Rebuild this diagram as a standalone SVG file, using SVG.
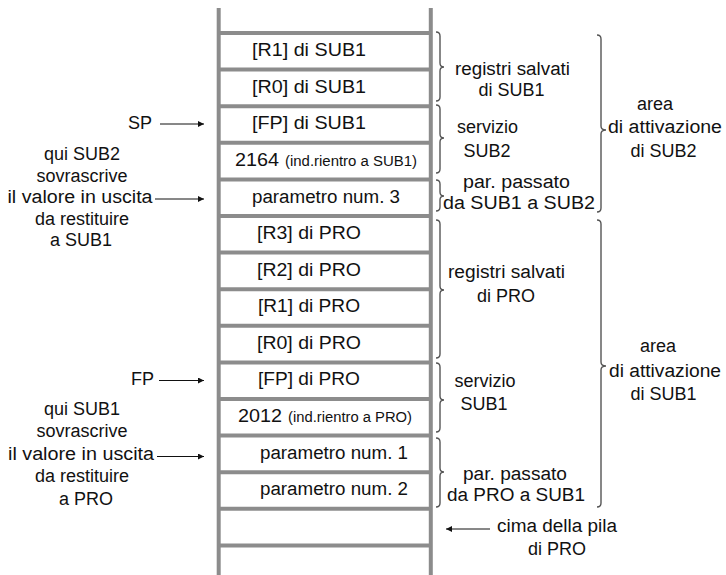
<svg xmlns="http://www.w3.org/2000/svg" width="726" height="575" viewBox="0 0 726 575">
<defs>
<style>
text{font-family:"Liberation Sans",Arial,Helvetica,sans-serif;font-size:18px;fill:#111}
.m{text-anchor:middle}
.e{text-anchor:end}
.s{font-size:14px}
.wall{stroke:#8c8c8c;stroke-width:4;fill:none}
.brace{stroke:#555;stroke-width:1.4;fill:none}
.arr{stroke:#111;stroke-width:1;fill:none;marker-end:url(#ah)}
</style>
<marker id="ah" viewBox="0 0 10 10" refX="10" refY="5" markerWidth="8" markerHeight="6" markerUnits="userSpaceOnUse" orient="auto">
<path d="M0,0 L10,5 L0,10 z" fill="#111"/>
</marker>
</defs>
<rect width="726" height="575" fill="#fff"/>

<g id="stack">
<line class="wall" x1="218.7" y1="8" x2="218.7" y2="575"/>
<line class="wall" x1="430.8" y1="8" x2="430.8" y2="575"/>
<g class="wall">
<line x1="218" y1="33" x2="431" y2="33"/>
<line x1="218" y1="69.6" x2="431" y2="69.6"/>
<line x1="218" y1="106.2" x2="431" y2="106.2"/>
<line x1="218" y1="142.8" x2="431" y2="142.8"/>
<line x1="218" y1="179.4" x2="431" y2="179.4"/>
<line x1="218" y1="216" x2="431" y2="216"/>
<line x1="218" y1="252.6" x2="431" y2="252.6"/>
<line x1="218" y1="289.2" x2="431" y2="289.2"/>
<line x1="218" y1="325.8" x2="431" y2="325.8"/>
<line x1="218" y1="362.4" x2="431" y2="362.4"/>
<line x1="218" y1="399" x2="431" y2="399"/>
<line x1="218" y1="435.6" x2="431" y2="435.6"/>
<line x1="218" y1="472.2" x2="431" y2="472.2"/>
<line x1="218" y1="508.8" x2="431" y2="508.8"/>
<line x1="218" y1="545.4" x2="431" y2="545.4"/>
</g>
</g>

<g id="cell-r1-sub1"><text class="m" x="309" y="56" textLength="114" lengthAdjust="spacingAndGlyphs">[R1] di SUB1</text></g>
<g id="cell-r0-sub1"><text class="m" x="309" y="92.5" textLength="114" lengthAdjust="spacingAndGlyphs">[R0] di SUB1</text></g>
<g id="cell-fp-sub1"><text class="m" x="309" y="129" textLength="114" lengthAdjust="spacingAndGlyphs">[FP] di SUB1</text></g>
<g id="cell-2164"><text x="235" y="165.5" textLength="44" lengthAdjust="spacingAndGlyphs">2164</text><text class="s" x="285" y="165.5" textLength="132" lengthAdjust="spacingAndGlyphs">(ind.rientro a SUB1)</text></g>
<g id="cell-par3"><text class="m" x="326" y="202.5" textLength="148" lengthAdjust="spacingAndGlyphs">parametro num. 3</text></g>
<g id="cell-r3-pro"><text class="m" x="309" y="239" textLength="104" lengthAdjust="spacingAndGlyphs">[R3] di PRO</text></g>
<g id="cell-r2-pro"><text class="m" x="309" y="275.5" textLength="104" lengthAdjust="spacingAndGlyphs">[R2] di PRO</text></g>
<g id="cell-r1-pro"><text class="m" x="309" y="312" textLength="102" lengthAdjust="spacingAndGlyphs">[R1] di PRO</text></g>
<g id="cell-r0-pro"><text class="m" x="309" y="348.5" textLength="104" lengthAdjust="spacingAndGlyphs">[R0] di PRO</text></g>
<g id="cell-fp-pro"><text class="m" x="309" y="385" textLength="102" lengthAdjust="spacingAndGlyphs">[FP] di PRO</text></g>
<g id="cell-2012"><text x="238" y="422" textLength="44" lengthAdjust="spacingAndGlyphs">2012</text><text class="s" x="288" y="422" textLength="124" lengthAdjust="spacingAndGlyphs">(ind.rientro a PRO)</text></g>
<g id="cell-par1"><text class="m" x="334" y="458.5" textLength="148" lengthAdjust="spacingAndGlyphs">parametro num. 1</text></g>
<g id="cell-par2"><text class="m" x="334" y="495" textLength="148" lengthAdjust="spacingAndGlyphs">parametro num. 2</text></g>

<g id="label-sp"><text class="e" x="152" y="128.5">SP</text></g>
<g id="label-sub2">
<text class="m" x="82" y="160">qui SUB2</text>
<text class="m" x="82" y="181.5">sovrascrive</text>
<text class="m" x="80" y="203" textLength="145" lengthAdjust="spacingAndGlyphs">il valore in uscita</text>
<text class="m" x="82" y="224.5">da restituire</text>
<text class="m" x="81" y="246">a SUB1</text>
</g>
<g id="label-fp"><text class="e" x="154" y="385">FP</text></g>
<g id="label-sub1">
<text class="m" x="82" y="415">qui SUB1</text>
<text class="m" x="82" y="437">sovrascrive</text>
<text class="m" x="81" y="459.5" textLength="146" lengthAdjust="spacingAndGlyphs">il valore in uscita</text>
<text class="m" x="82" y="481.5">da restituire</text>
<text class="m" x="86" y="504.5">a PRO</text>
</g>

<g id="label-reg-sub1"><text class="m" x="512.5" y="75" textLength="115" lengthAdjust="spacingAndGlyphs">registri salvati</text><text class="m" x="511.5" y="95.5">di SUB1</text></g>
<g id="label-serv-sub2"><text class="m" x="487.5" y="133">servizio</text><text class="m" x="487" y="157">SUB2</text></g>
<g id="label-par-sub1-sub2"><text class="m" x="516.5" y="188" textLength="107" lengthAdjust="spacingAndGlyphs">par. passato</text><text class="m" x="519" y="208.5" textLength="152" lengthAdjust="spacingAndGlyphs">da SUB1 a SUB2</text></g>
<g id="label-area-sub2"><text class="m" x="655" y="110">area</text><text class="m" x="665" y="133" textLength="114" lengthAdjust="spacingAndGlyphs">di attivazione</text><text class="m" x="663.5" y="157">di SUB2</text></g>
<g id="label-reg-pro"><text class="m" x="506.5" y="278" textLength="117" lengthAdjust="spacingAndGlyphs">registri salvati</text><text class="m" x="506" y="302">di PRO</text></g>
<g id="label-serv-sub1"><text class="m" x="485" y="387">servizio</text><text class="m" x="484" y="410">SUB1</text></g>
<g id="label-area-sub1"><text class="m" x="658" y="352">area</text><text class="m" x="665" y="377" textLength="112" lengthAdjust="spacingAndGlyphs">di attivazione</text><text class="m" x="663.5" y="400">di SUB1</text></g>
<g id="label-par-pro-sub1"><text class="m" x="515" y="480" textLength="104" lengthAdjust="spacingAndGlyphs">par. passato</text><text class="m" x="516" y="500.5" textLength="138" lengthAdjust="spacingAndGlyphs">da PRO a SUB1</text></g>
<g id="label-cima"><text class="m" x="557" y="532" textLength="120" lengthAdjust="spacingAndGlyphs">cima della pila</text><text class="m" x="557" y="555">di PRO</text></g>

<g id="connectors">
<line class="arr" x1="160" y1="124" x2="204" y2="124"/>
<line class="arr" x1="155" y1="199" x2="204" y2="199"/>
<line class="arr" x1="159" y1="380.5" x2="204" y2="380.5"/>
<line class="arr" x1="157" y1="456.5" x2="204" y2="456.5"/>
<line class="arr" x1="490" y1="529" x2="446" y2="529"/>
<g class="brace">
<path d="M436,32 Q440,32 440,36 L440,63 Q440,67 444,67 Q440,67 440,71 L440,97 Q440,101 436,101"/>
<path d="M436,105 Q440,105 440,109 L440,134 Q440,138 444,138 Q440,138 440,142 L440,169 Q440,173 436,173"/>
<path d="M436,180 Q440,180 440,184 L440,192 Q440,196 444,196 Q440,196 440,200 L440,207 Q440,211 436,211"/>
<path d="M436,220 Q440,220 440,224 L440,286 Q440,290 444,290 Q440,290 440,294 L440,354 Q440,358 436,358"/>
<path d="M436,363 Q440,363 440,367 L440,396 Q440,400 444,400 Q440,400 440,404 L440,428 Q440,432 436,432"/>
<path d="M436,438 Q440,438 440,442 L440,468 Q440,472 444,472 Q440,472 440,476 L440,503 Q440,507 436,507"/>
<path d="M597,35 Q601,35 601,39 L601,126 Q601,130 606,130 Q601,130 601,134 L601,208 Q601,212 597,212"/>
<path d="M597,220 Q601,220 601,224 L601,362 Q601,366 606,366 Q601,366 601,370 L601,503 Q601,507 597,507"/>
</g>
</g>
</svg>
